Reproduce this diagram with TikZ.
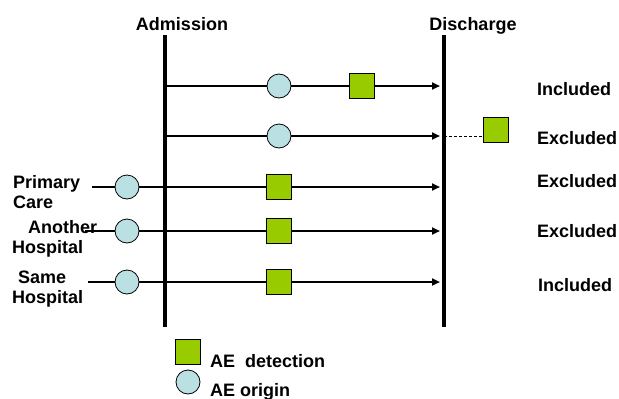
\documentclass[tikz,border=0pt]{standalone}
\usepackage{fontspec}
\setmainfont{Liberation Sans}
\usetikzlibrary{arrows.meta}
\definecolor{aegreen}{RGB}{153,204,0}
\definecolor{aeblue}{RGB}{187,224,227}

\begin{document}
\begin{tikzpicture}[x=1pt,y=-1pt,
		font=\fontsize{18}{20}\selectfont\bfseries,
		origin/.style={circle,draw,fill=aeblue,minimum size=24pt,inner sep=0pt,line width=0.8pt},
		detect/.style={rectangle,draw,fill=aegreen,minimum size=25pt,inner sep=0pt,line width=0.8pt},
		stay/.style={line width=2pt,-{Triangle[length=8pt,width=7pt]}},
		wall/.style={line width=3.5pt}]
		\useasboundingbox (0,0) rectangle (619,399);
		% admission and discharge
		\coordinate (adtop) at (165,35);
		\coordinate (adbot) at (165,327);
		\coordinate (dctop) at (444,35);
		\coordinate (dcbot) at (444,327);
		\draw[wall] (adtop) -- (adbot);
		\draw[wall] (dctop) -- (dcbot);
		\node[anchor=base] (adm) at (182,30) {Admission};
		\node[anchor=base] (dis) at (473,30) {Discharge};
		% starts and ends of the stays
		\coordinate (s1) at (165,86);  \coordinate (e1) at (440,86);
		\coordinate (s2) at (165,136); \coordinate (e2) at (440,136);
		\coordinate (s3) at (92,187);  \coordinate (e3) at (440,187);
		\coordinate (s4) at (85,231);  \coordinate (e4) at (440,231);
		\coordinate (s5) at (88,282);  \coordinate (e5) at (440,282);
		\coordinate (d2) at (444,136);
		\foreach \r in {1,...,5}
		\draw[stay] (s\r) -- (e\r);
		% events
		\node[origin] (o1) at (279,86) {};
		\node[detect] (a1) at (362,86) {};
		\node[origin] (o2) at (279,136) {};
		\node[detect] (a2) at (496,130) {};
		\draw[dashed,line width=1pt,dash pattern=on 3pt off 2pt] (d2) -- (d2 -| a2.west);
		\node[origin] (o3) at (127,187) {};
		\node[detect] (a3) at (279,187) {};
		\node[origin] (o4) at (127,231) {};
		\node[detect] (a4) at (279,231) {};
		\node[origin] (o5) at (127,282) {};
		\node[detect] (a5) at (279,282) {};
		% where the AE came from
		\node[anchor=west,align=left,inner sep=0pt] (pc) at (13,192.5) {Primary\\Care};
		\node[anchor=west,align=left,inner sep=0pt] (ah) at (12,238.5) {\hspace*{16pt}Another\\Hospital};
		\node[anchor=west,align=left,inner sep=0pt] (sh) at (12,289.5) {\hspace*{6pt}Same\\Hospital};
		% outcome
		\node[anchor=base west,inner sep=0pt] (r1) at (537,95) {Included};
		\node[anchor=base west,inner sep=0pt] (r2) at (537,144) {Excluded};
		\node[anchor=base west,inner sep=0pt] (r3) at (537,187) {Excluded};
		\node[anchor=base west,inner sep=0pt] (r4) at (537,237) {Excluded};
		\node[anchor=base west,inner sep=0pt] (r5) at (538,291) {Included};
		% legend
		\node[detect] (ksq) at (188,352) {};
		\node[origin] (kci) at (188,382) {};
		\node[anchor=base west,inner sep=0pt] (kdet) at (210,367) {AE\ \ detection};
		\node[anchor=base west,inner sep=0pt] (korg) at (210,396) {AE origin};
	\end{tikzpicture}
\end{document}
